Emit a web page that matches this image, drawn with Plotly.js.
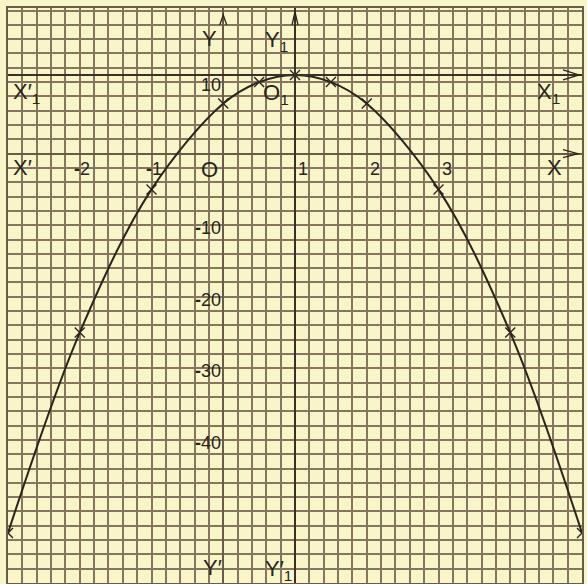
<!DOCTYPE html>
<html>
<head>
<meta charset="utf-8">
<script src="https://cdn.plot.ly/plotly-3.0.1.min.js"></script>
<style>
  html, body { margin: 0; padding: 0; background: #f8f6c8; }
  #chart { width: 587px; height: 584px; }
</style>
</head>
<body>
<div id="chart"></div>
<script>
// Plotted points of y = 7 + 8x - 4x^2 as marked on the graph paper
const xValues = [-3, -2, -1, 0, 0.5, 1, 1.5, 2, 3, 4, 5];
const yValues = [-53, -25, -5, 7, 10, 11, 10, 7, -5, -25, -53];

// Axis numbering written on the paper
const xTickValues = [-2, -1, 1, 2, 3];
const xTickLabels = ['-2', '-1', '1', '2', '3'];
const yTickValues = [10, -10, -20, -30, -40];
const yTickLabels = ['10', '-10', '-20', '-30', '-40'];

// New origin O1 (vertex)
const vertex = [1, 11];

const xRange = [-3, 5];
const yRange = [-60, 20.35];

const ink = '#2b241d';
const gridInk = '#86765f';
const paper = '#f8f6c8';

const curve = {
  x: xValues, y: yValues,
  type: 'scatter', mode: 'lines+markers',
  line: { color: ink, width: 2, shape: 'spline', smoothing: 1 },
  marker: { symbol: 'x-thin', size: 10, line: { color: ink, width: 1.4 }, color: ink },
  hoverinfo: 'skip'
};

const annotations = [];
function lab(text, x, y, xanchor, xshift, yshift, size) {
  annotations.push({
    text: text, x: x, y: y, xref: 'x', yref: 'y',
    xanchor: xanchor, yanchor: 'middle',
    xshift: xshift, yshift: yshift, showarrow: false,
    font: { family: 'Liberation Sans, Arial, sans-serif', size: size, color: ink }
  });
}
// make the minus sign bold so it shows over the ruling
function numText(s) {
  return s.charAt(0) === '-' ? '<b>-</b>' + s.slice(1) : s;
}

xTickValues.forEach((v, i) => {
  lab(numText(xTickLabels[i]), v, 0, 'left', v < 0 ? -8 : 1, -15, 18);
});
yTickValues.forEach((v, i) => {
  lab(numText(yTickLabels[i]), 0, v, 'right', 0, -3, 18);
});

const L = 22;
lab('O', 0, 0, 'right', -3, -16, L);
lab('X′', xRange[0], 0, 'left', 3, -14, L);
lab('X', xRange[1], 0, 'right', -18, -14, L);
lab('X′<sub>1</sub>', xRange[0], vertex[1], 'left', 3, -18, L);
lab('X<sub>1</sub>', xRange[1], vertex[1], 'right', -20, -18, L);
lab('O<sub>1</sub>', vertex[0], vertex[1], 'right', -4, -19, L);
lab('Y', 0, yRange[1], 'right', -4, -30, L);
lab('Y<sub>1</sub>', vertex[0], yRange[1], 'right', -5, -33, L);
lab('Y′', 0, yRange[0], 'right', 1, 16, L);
lab('Y′<sub>1</sub>', vertex[0], yRange[0], 'right', -1, 13, L);

const arrowLine = { color: ink, width: 1.3 };
const shapes = [
  // heavy shifted axes through the vertex
  { type: 'line', xref: 'paper', x0: 0, x1: 1, yref: 'y', y0: vertex[1], y1: vertex[1],
    line: { color: '#3a3027', width: 2 } },
  { type: 'line', yref: 'paper', y0: 0, y1: 1, xref: 'x', x0: vertex[0], x1: vertex[0],
    line: { color: '#3a3027', width: 2 } },
  // arrow heads (pixel-sized chevrons anchored at axis ends)
  { type: 'path', xref: 'x', yref: 'y', xsizemode: 'pixel', ysizemode: 'pixel',
    xanchor: 0, yanchor: yRange[1], path: 'M-3.5,-17 L0,-7 L3.5,-17', line: arrowLine },
  { type: 'path', xref: 'x', yref: 'y', xsizemode: 'pixel', ysizemode: 'pixel',
    xanchor: vertex[0], yanchor: yRange[1], path: 'M-3,-17 L0,-4 L3,-17', line: arrowLine },
  { type: 'path', xref: 'x', yref: 'y', xsizemode: 'pixel', ysizemode: 'pixel',
    xanchor: xRange[1], yanchor: 0, path: 'M-19,4 L-4,0 L-19,-4', line: arrowLine },
  { type: 'path', xref: 'x', yref: 'y', xsizemode: 'pixel', ysizemode: 'pixel',
    xanchor: xRange[1], yanchor: vertex[1], path: 'M-19,5 L-3,0 L-19,-5', line: arrowLine }
];

const axisCommon = {
  showgrid: true, gridcolor: gridInk, gridwidth: 2,
  zeroline: true, zerolinecolor: '#6a5a48', zerolinewidth: 2,
  showline: true, mirror: true, linecolor: '#6a5a48', linewidth: 2,
  showticklabels: false, ticks: '', automargin: false, fixedrange: true
};

const layout = {
  width: 587, height: 584,
  margin: { l: 8, r: 5, t: 8, b: 1, pad: 0 },
  paper_bgcolor: paper, plot_bgcolor: paper,
  showlegend: false,
  xaxis: Object.assign({}, axisCommon, { range: xRange, dtick: 0.2, tick0: 0 }),
  yaxis: Object.assign({}, axisCommon, { range: yRange, dtick: 2, tick0: 0 }),
  annotations: annotations,
  shapes: shapes
};

Plotly.newPlot('chart', [curve], layout, { staticPlot: true, displayModeBar: false });
</script>
</body>
</html>
